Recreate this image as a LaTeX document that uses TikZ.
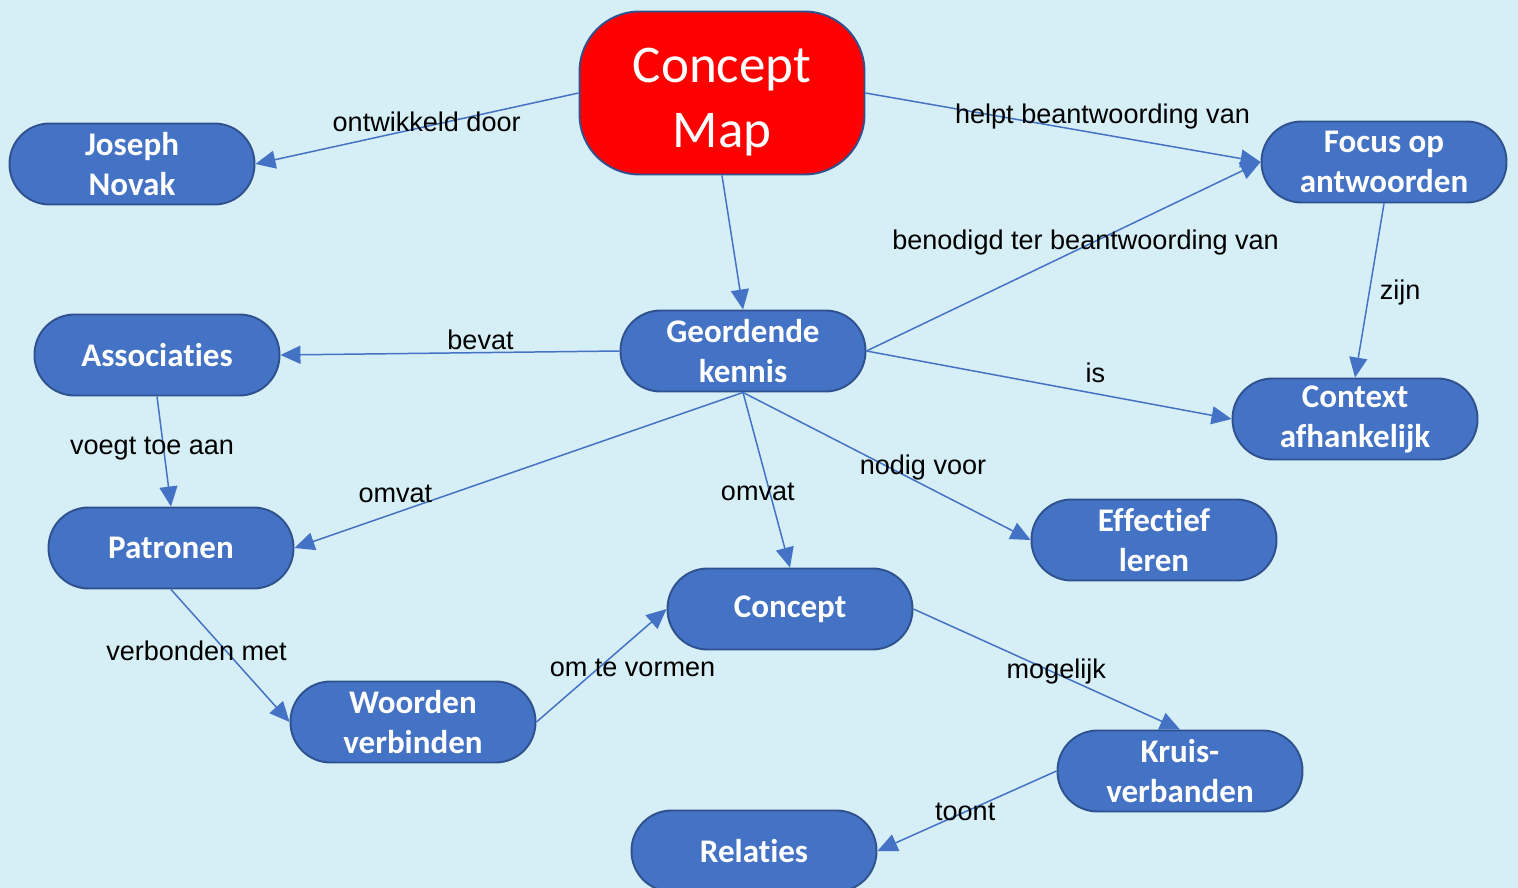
\documentclass[tikz,border=0pt]{standalone}
\usepackage{fontspec}
\setmainfont{Liberation Sans}
\newfontfamily\boxfont[Ligatures=NoCommon]{Carlito}
\usetikzlibrary{arrows.meta}

\definecolor{bgblue}{RGB}{214,238,246}
\definecolor{boxblue}{RGB}{68,114,196}
\definecolor{rimblue}{RGB}{47,82,143}
\definecolor{mapred}{RGB}{255,0,0}

\begin{document}
\begin{tikzpicture}[x=0.02cm,y=-0.02cm,
	box/.style={draw=rimblue,line width=1.1pt,fill=boxblue,text=white,rounded corners=0.8cm,
		minimum width=4.9cm,minimum height=1.62cm,inner sep=0pt,align=center,
		font=\boxfont\bfseries\fontsize{18.8}{22.8}\selectfont},
	mapbox/.style={draw=rimblue,line width=1.1pt,fill=mapred,text=white,rounded corners=1.2cm,
		minimum width=5.7cm,minimum height=3.26cm,inner sep=0pt,align=center,
		font=\boxfont\fontsize{30.2}{37}\selectfont},
	link/.style={-{Triangle[length=0.4cm,width=0.36cm]},draw=boxblue,line width=0.85pt},
	lbl/.style={inner sep=0pt,font=\fontsize{15.4}{18}\selectfont}]
	%    \draw[step=100,gray,very thin] (0,0) grid (1518,888);
	\useasboundingbox (0,0) rectangle (1518,888);
	\fill[bgblue] (0,0) rectangle (1518,888);
	
	\node[mapbox] (cmap) at (722,93) {\rule{0pt}{1.05cm}Concept\\Map};
	\node[box] (novak) at (132,164) {Joseph\\Novak};
	\node[box] (focus) at (1384,162) {Focus op\\antwoorden};
	\node[box] (kennis) at (743,351) {Geordende\\kennis};
	\node[box] (assoc) at (157,355) {Associaties};
	\node[box] (context) at (1355,419) {Context\\afhankelijk};
	\node[box] (patronen) at (171,548) {Patronen};
	\node[box] (effectief) at (1154,540) {Effectief\\leren};
	\node[box] (concept) at (790,609) {Concept};
	\node[box] (woorden) at (413,722) {Woorden\\verbinden};
	\node[box] (kruis) at (1180,771) {Kruis-\\verbanden};
	\node[box] (relaties) at (754,851) {Relaties};
	
	\draw[link] (cmap.west) -- node[lbl,pos=.47,yshift=.09cm] {ontwikkeld door} (novak.east);
	\draw[link] (cmap.east) -- node[lbl,pos=.6,yshift=.36cm] {helpt beantwoording van} (focus.west);
	\draw[link] (cmap.south) -- (kennis.north);
	\draw[link] (kennis.east) -- node[lbl,pos=.556,yshift=.06cm] {benodigd ter beantwoording van} (focus.west);
	\draw[link] (kennis.west) -- node[lbl,pos=.41,yshift=.26cm] {bevat} (assoc.east);
	\draw[link] (kennis.east) -- node[lbl,pos=.627,yshift=.42cm] {is} (context.west);
	\draw[link] (kennis.south) -- node[lbl,pos=.775,yshift=.38cm] {omvat} (patronen.east);
	\draw[link] (kennis.south) -- node[lbl,pos=.57,xshift=-.24cm] {omvat} (concept.north);
	\draw[link] (kennis.south) -- node[lbl,pos=.626,yshift=.34cm] {nodig voor} (effectief.west);
	\draw[link] (assoc.south) -- node[lbl,pos=.47,xshift=-.23cm] {voegt toe aan} (patronen.north);
	\draw[link] (focus.south) -- node[lbl,pos=.51,xshift=.62cm] {zijn} (context.north);
	\draw[link] (patronen.south) -- node[lbl,pos=.46,xshift=-.58cm] {verbonden met} (woorden.west);
	\draw[link] (woorden.east) -- node[lbl,pos=.5,xshift=.62cm,yshift=-.04cm] {om te vormen} (concept.west);
	\draw[link] (concept.east) -- node[lbl,pos=.536,yshift=.04cm] {mogelijk} (kruis.north);
	\draw[link] (kruis.west) -- node[lbl,pos=.51] {toont} (relaties.east);
	
\end{tikzpicture}
\end{document}
